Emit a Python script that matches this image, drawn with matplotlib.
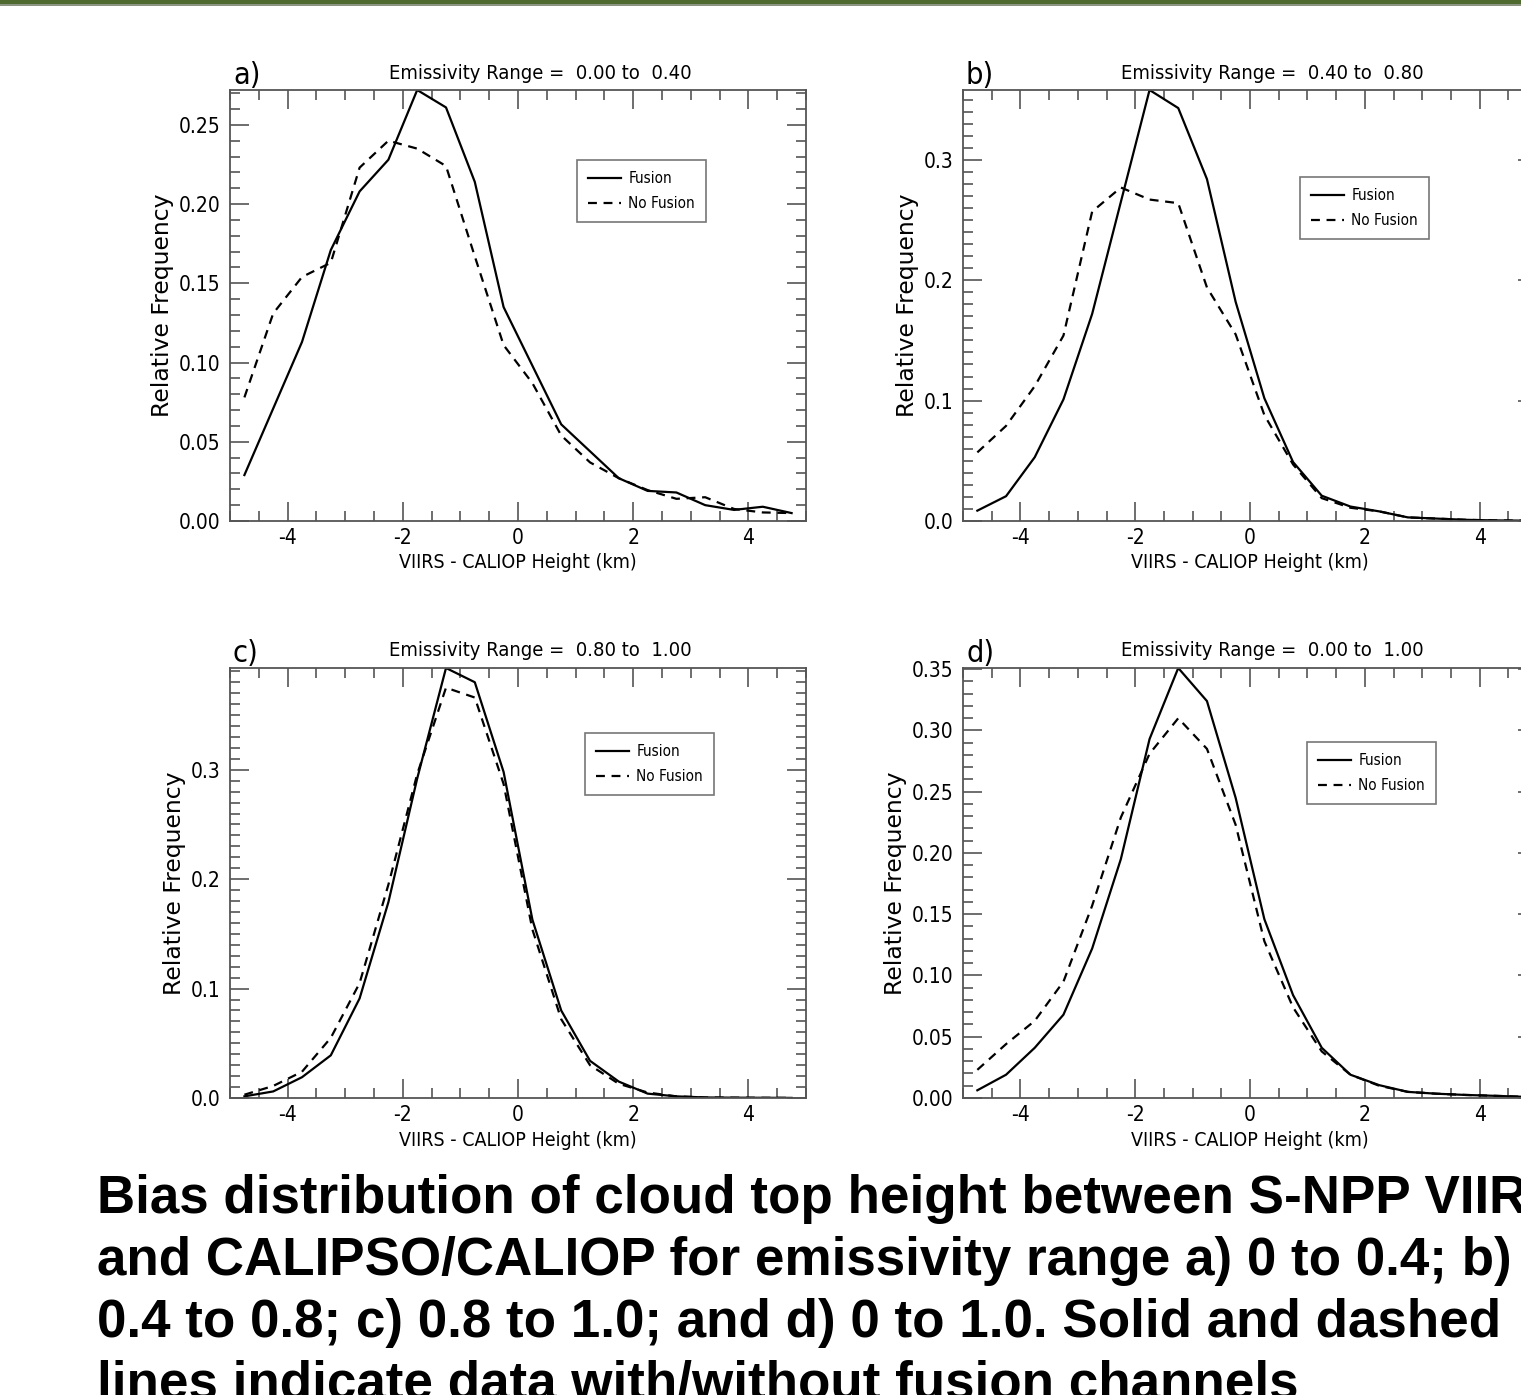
import matplotlib
matplotlib.use("Agg")
import matplotlib.pyplot as plt
from matplotlib.ticker import MultipleLocator, FormatStrFormatter
from matplotlib.patches import Rectangle

plt.rcParams["axes.unicode_minus"] = False

# ---------------- data ----------------
bias_km = [-4.75, -4.25, -3.75, -3.25, -2.75, -2.25, -1.75, -1.25, -0.75, -0.25,
           0.25, 0.75, 1.25, 1.75, 2.25, 2.75, 3.25, 3.75, 4.25, 4.75]

fusion_a = [0.029, 0.071, 0.113, 0.171, 0.208, 0.228, 0.272, 0.261, 0.214, 0.135,
            0.098, 0.061, 0.044, 0.027, 0.019, 0.018, 0.010, 0.007, 0.009, 0.005]
nofusion_a = [0.078, 0.131, 0.154, 0.163, 0.223, 0.240, 0.235, 0.224, 0.167, 0.111,
              0.087, 0.054, 0.037, 0.027, 0.0195, 0.014, 0.015, 0.0076, 0.0054, 0.005]

fusion_b = [0.0086, 0.0206, 0.053, 0.101, 0.172, 0.265, 0.358, 0.343, 0.284, 0.182,
            0.102, 0.049, 0.021, 0.012, 0.008, 0.003, 0.002, 0.001, 0.0005, 0.0003]
nofusion_b = [0.057, 0.079, 0.112, 0.154, 0.257, 0.277, 0.267, 0.264, 0.194, 0.155,
              0.088, 0.047, 0.019, 0.011, 0.008, 0.003, 0.002, 0.001, 0.0005, 0.0003]

fusion_c = [0.0015, 0.006, 0.019, 0.039, 0.091, 0.179, 0.292, 0.393, 0.380, 0.298,
            0.163, 0.080, 0.034, 0.015, 0.004, 0.0015, 0.0005, 0.0003, 0.0002, 0.0001]
nofusion_c = [0.003, 0.011, 0.024, 0.055, 0.105, 0.195, 0.296, 0.375, 0.366, 0.287,
              0.154, 0.072, 0.030, 0.013, 0.005, 0.0015, 0.0005, 0.0003, 0.0002, 0.0001]

fusion_d = [0.0063, 0.019, 0.041, 0.068, 0.122, 0.195, 0.293, 0.351, 0.324, 0.245,
            0.146, 0.084, 0.041, 0.019, 0.0105, 0.005, 0.0035, 0.0025, 0.0018, 0.001]
nofusion_d = [0.023, 0.044, 0.063, 0.095, 0.157, 0.229, 0.281, 0.310, 0.285, 0.223,
              0.128, 0.074, 0.038, 0.019, 0.010, 0.005, 0.0035, 0.0025, 0.0018, 0.001]

panel_letters = ["a)", "b)", "c)", "d)"]
emissivity_ranges = ["0.00 to  0.40", "0.40 to  0.80", "0.80 to  1.00", "0.00 to  1.00"]
y_major = [0.05, 0.1, 0.1, 0.05]
y_minor = [0.01, 0.01, 0.01, 0.01]
y_fmt = ["%.2f", "%.1f", "%.1f", "%.2f"]
x_label = "VIIRS - CALIOP Height (km)"
y_label = "Relative Frequency"
series_labels = ["Fusion", "No Fusion"]

caption_lines = [
    "Bias distribution of cloud top height between S-NPP VIIRS",
    "and CALIPSO/CALIOP for emissivity range a) 0 to 0.4; b)",
    "0.4 to 0.8; c) 0.8 to 1.0; and d) 0 to 1.0. Solid and dashed",
    "lines indicate data with/without fusion channels",
]

# ---------------- layout ----------------
W, H = 1521, 1395
fig = plt.figure(figsize=(W / 100, H / 100), dpi=100)

# pixel boxes: left, top, right, bottom
boxes = [(230, 90, 806, 521), (963, 90, 1537, 521),
         (230, 668, 806, 1098), (963, 668, 1537, 1098)]
# legend upper-left corners in pixels
legend_px = [(577, 160), (1300, 177), (585, 733), (1307, 742)]

fusion_all = [fusion_a, fusion_b, fusion_c, fusion_d]
nofusion_all = [nofusion_a, nofusion_b, nofusion_c, nofusion_d]

COND = dict(family=["DejaVu Sans Condensed", "DejaVu Sans"], stretch="condensed")
grey = "#555555"

for i in range(4):
    l, t, r, b = boxes[i]
    ax = fig.add_axes([l / W, (H - b) / H, (r - l) / W, (b - t) / H])
    ax.plot(bias_km, fusion_all[i], color="black", lw=1.6, label=series_labels[0])
    ax.plot(bias_km, nofusion_all[i], color="black", lw=1.6,
            linestyle=(0, (4, 3)), label=series_labels[1])
    ax.set_xlim(-5, 5)
    ax.set_ylim(0, max(fusion_all[i]))
    ax.xaxis.set_major_locator(MultipleLocator(2))
    ax.xaxis.set_minor_locator(MultipleLocator(0.5))
    ax.yaxis.set_major_locator(MultipleLocator(y_major[i]))
    ax.yaxis.set_minor_locator(MultipleLocator(y_minor[i]))
    ax.yaxis.set_major_formatter(FormatStrFormatter(y_fmt[i]))
    ax.tick_params(which="both", direction="in", top=True, right=True,
                   color=grey, width=1.2)
    ax.tick_params(which="major", length=14)
    ax.tick_params(which="minor", length=7)
    ax.tick_params(axis="x", which="major", pad=5)
    ax.tick_params(axis="y", which="major", pad=7)
    for s in ax.spines.values():
        s.set_color(grey)
        s.set_linewidth(1.3)
    for lab in ax.get_xticklabels() + ax.get_yticklabels():
        lab.set_fontfamily(COND["family"])
        lab.set_fontstretch("condensed")
        lab.set_fontsize(15)
    ax.set_xlabel(x_label, fontsize=14, labelpad=4, **COND)
    ax.set_ylabel(y_label, fontsize=16.9, labelpad=3, family="DejaVu Sans")
    lx, ly = legend_px[i]
    leg = ax.legend(loc="upper left",
                    bbox_to_anchor=((lx - l) / (r - l), 1 - (ly - t) / (b - t)),
                    borderaxespad=0, frameon=True, fancybox=False, edgecolor=grey,
                    prop=dict(family=COND["family"], stretch="condensed", size=11),
                    handlelength=2.1, handletextpad=0.5, borderpad=0.75,
                    labelspacing=0.62)
    leg.get_frame().set_linewidth(1.2)
    # panel letter and title
    fig.text((l + 3) / W, (H - 84) / H if i < 2 else (H - 662) / H,
             panel_letters[i], fontsize=22, ha="left", va="baseline", **COND)
    cx = (l + r) / 2 + 22 if i % 2 == 0 else (l + 287 + 22)
    fig.text(cx / W, (H - 79) / H if i < 2 else (H - 656) / H,
             "Emissivity Range =  " + emissivity_ranges[i],
             fontsize=14.5, ha="center", va="baseline", **COND)

# green bar at the top of the slide
fig.patches.append(Rectangle((0, 1 - 5 / H), 1, 5 / H, transform=fig.transFigure,
                             facecolor="#4f6a2e", edgecolor="none", zorder=5))
fig.patches.append(Rectangle((0, 1 - 6 / H), 1, 1.5 / H, transform=fig.transFigure,
                             facecolor="#8c9482", edgecolor="none", zorder=5))

# caption (the slide crops it on the right and at the bottom)
baselines = [1213, 1275, 1337, 1399]
for txt, yb in zip(caption_lines, baselines):
    fig.text(97 / W, (H - yb) / H, txt, fontsize=38.2, fontweight="bold",
             family=["Liberation Sans", "DejaVu Sans"], ha="left", va="baseline")

fig.savefig("out.png", dpi=100)
